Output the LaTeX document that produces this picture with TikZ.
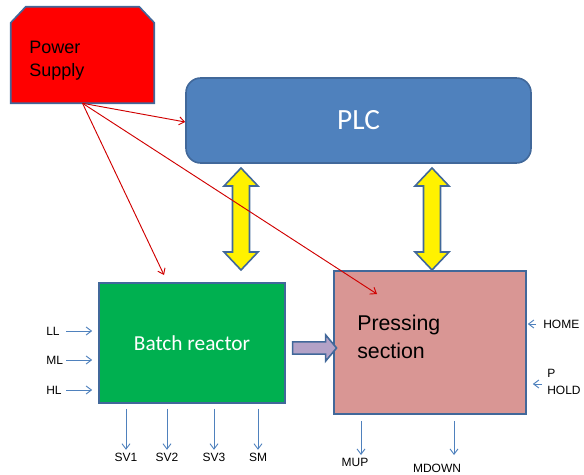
\documentclass[tikz,border=0pt]{standalone}
\usepackage{fontspec}
\setmainfont{Liberation Sans}
\newfontfamily\calibrifont{Carlito}
\usetikzlibrary{positioning}
\usetikzlibrary{shapes.arrows, arrows.meta}
\definecolor{edgeblue}{HTML}{41689A}
\definecolor{plcblue}{HTML}{4F81BD}
\definecolor{reactgreen}{HTML}{00B050}
\definecolor{presspink}{HTML}{D99694}
\definecolor{linkpurple}{HTML}{B3A2C7}
\definecolor{sigblue}{HTML}{4F81BD}
\definecolor{feedred}{HTML}{D00000}

\begin{document}
\begin{tikzpicture}[x=0.75pt, y=-0.75pt,
	supplynode/.style={rectangle, minimum width=107.25pt, minimum height=72pt, inner sep=0pt},
	plcnode/.style={rectangle, rounded corners=11pt, fill=plcblue, draw=edgeblue, line width=1.2pt,
		minimum width=258.75pt, minimum height=63.75pt, text=white},
	blocknode/.style={rectangle, draw=edgeblue, line width=1.2pt, inner sep=0pt},
	busnode/.style={rectangle, minimum width=25.5pt, minimum height=76.5pt, inner sep=0pt},
	busarrow/.style={fill=yellow, draw=edgeblue, line width=1.2pt},
	flownode/.style={single arrow, fill=linkpurple, draw=edgeblue, line width=1.2pt,
		inner xsep=0pt, inner ysep=4pt, minimum height=33pt,
		single arrow head extend=5.25pt, single arrow tip angle=100},
	siglabel/.style={inner sep=0pt, font=\fontsize{9}{12.75}\selectfont},
	feed/.style={feedred, line width=0.7pt, -{Straight Barb[length=4pt,width=6pt]}},
	sig/.style={sigblue, line width=0.7pt, -{Straight Barb[length=4pt,width=6pt]}},
	]
	\useasboundingbox (0,0) rectangle (584,474);

	% Nodes
	\node[supplynode]                          (power_supply)  at (82.5, 55)    {};
	\filldraw[fill=red, draw=edgeblue, line width=1.2pt]
		(power_supply.south west) -- ([yshift=-12pt] power_supply.north west)
		-- ([xshift=11.25pt] power_supply.north west) -- ([xshift=-11.25pt] power_supply.north east)
		-- ([yshift=-12pt] power_supply.north east) -- (power_supply.south east) -- cycle;
	\node[anchor=west, align=left, inner sep=0pt, font=\fontsize{13.5}{17}\selectfont]
	                                           (power_text)    at (29, 61)      {Power\\Supply};
	\node[plcnode, font=\calibrifont\fontsize{22}{26}\selectfont]
	                                           (plc_box)       at (358.5, 120.5) {PLC};
	\node[blocknode, fill=reactgreen, minimum width=139.5pt, minimum height=90pt, text=white,
	      font=\calibrifont\fontsize{16}{19}\selectfont]
	                                           (batch_box)     at (192, 343)    {Batch reactor};
	\node[blocknode, fill=presspink, minimum width=144pt, minimum height=107.25pt]
	                                           (press_box)     at (430, 342.5)  {};
	\node[anchor=west, align=left, inner sep=0pt, font=\fontsize{16}{21}\selectfont]
	                                           (press_text)    at (357, 337)    {Pressing\\section};
	\node[busnode]                             (bus_left)      at (241, 219)    {};
	\node[busnode]                             (bus_right)     at (432, 219)    {};
	\node[flownode]                            (batch_flow)    at (312, 348)    {};

	% Double arrows PLC <-> sections
	\foreach \bus in {bus_left, bus_right}
		\filldraw[busarrow] ([shift={(0,-51)}] \bus.center) -- ++(17,18) -- ++(-8.5,0) -- ++(0,66)
			-- ++(8.5,0) -- ++(-17,18) -- ++(-17,-18) -- ++(8.5,0) -- ++(0,-66) -- ++(-8.5,0) -- cycle;

	% Signal labels
	\node[siglabel, anchor=west]               (ll_lbl)        at (46, 331)     {LL};
	\node[siglabel, anchor=west]               (ml_lbl)        at (46, 360)     {ML};
	\node[siglabel, anchor=west]               (hl_lbl)        at (46, 390)     {HL};
	\node[siglabel]                            (sv1_lbl)       at (126, 457)    {SV1};
	\node[siglabel]                            (sv2_lbl)       at (167, 457)    {SV2};
	\node[siglabel]                            (sv3_lbl)       at (214, 457)    {SV3};
	\node[siglabel]                            (sm_lbl)        at (258, 457)    {SM};
	\node[siglabel]                            (mup_lbl)       at (355, 462)    {MUP};
	\node[siglabel]                            (mdown_lbl)     at (437, 468)    {MDOWN};
	\node[siglabel, anchor=west]               (home_lbl)      at (543, 324)    {HOME};
	\node[siglabel, anchor=west, align=left]   (phold_lbl)     at (547, 381.5)  {P\\HOLD};

	% Free ends
	\coordinate (batch_in)  at (164, 275);
	\coordinate (press_in)  at (377, 294);
	\coordinate (ll_in)     at (66, 331);
	\coordinate (ml_in)     at (66, 360);
	\coordinate (hl_in)     at (66, 390);
	\coordinate (mup_out)   at (361, 455);
	\coordinate (mdown_out) at (454, 455);
	\coordinate (home_in)   at (536, 324);
	\coordinate (phold_in)  at (542, 384);

	% Lines
	\draw[feed] (power_supply.south) -- (plc_box.west |- 0, 122);
	\draw[feed] (power_supply.south) -- (batch_in);
	\draw[feed] (power_supply.south) -- (press_in);
	\draw[sig] (ll_in) -- ([xshift=-4.5pt] ll_in -| batch_box.west);
	\draw[sig] (ml_in) -- ([xshift=-4.5pt] ml_in -| batch_box.west);
	\draw[sig] (hl_in) -- ([xshift=-4.5pt] hl_in -| batch_box.west);
	\foreach \lbl in {sv1_lbl, sv2_lbl, sv3_lbl, sm_lbl}
		\draw[sig, shorten <=3.75pt, shorten >=2pt] (\lbl |- batch_box.south) -- (\lbl.north);
	\draw[sig, shorten <=4.5pt] (mup_out |- press_box.south) -- (mup_out);
	\draw[sig, shorten <=4.5pt] (mdown_out |- press_box.south) -- (mdown_out);
	\draw[sig] (home_in) -- ([xshift=0.75pt] home_in -| press_box.east);
	\draw[sig] (phold_in) -- ([xshift=4.5pt] phold_in -| press_box.east);
\end{tikzpicture}
\end{document}
